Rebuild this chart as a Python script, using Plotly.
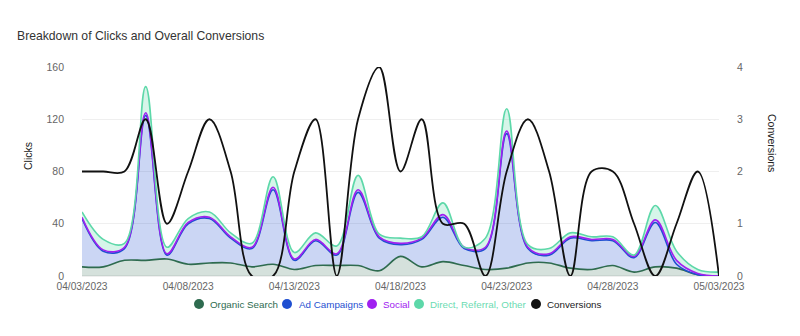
import plotly.graph_objects as go
import pandas as pd

dates = pd.date_range("2023-04-03", "2023-05-03", freq="D")

organic_search = [7, 7, 12, 12, 13, 9, 10, 10, 7, 9, 5, 8, 8, 8, 4, 15, 7, 11, 8, 5, 6, 10, 10, 6, 5, 8, 3, 7, 6, 1, 0]
ad_campaigns = [37, 12, 9, 111, 3, 31, 34, 19, 14, 57, 7, 19, 8, 56, 25, 9, 21, 34, 13, 16, 103, 11, 6, 23, 22, 19, 11, 34, 3, 0, 0]
social = [1, 1, 1, 2, 1, 1, 1, 1, 1, 2, 1, 1, 1, 2, 1, 1, 1, 2, 1, 1, 2, 1, 1, 1, 1, 1, 1, 2, 3, 1, 0]
direct_referral_other = [4, 8, 3, 20, 5, 3, 4, 3, 3, 8, 5, 5, 6, 11, 2, 4, 1, 9, 0, 7, 17, 2, 4, 3, 2, 2, 1, 11, 7, 3, 3]
conversions = [2, 2, 2, 3, 1, 2, 3, 2, 0, 0, 2, 3, 0, 3, 4, 2, 3, 1, 1, 0, 2, 3, 2, 0, 2, 2, 1, 0, 1, 2, 0]

series = [
    ("Organic Search", organic_search, "#2e6b4f", "rgba(46,107,79,0.20)"),
    ("Ad Campaigns", ad_campaigns, "#1f4fd1", "rgba(31,79,209,0.23)"),
    ("Social", social, "#a020f0", "rgba(31,79,209,0.23)"),
    ("Direct, Referral, Other", direct_referral_other, "#5dd8a9", "rgba(93,216,169,0.25)"),
]
legend_names = [s[0] for s in series] + ["Conversions"]
legend_colors = [s[2] for s in series] + ["#111111"]
legend_text_colors = ["#2e6b4f", "#1f4fd1", "#a020f0", "#6cdbb2", "#222222"]

# plot area in pixels (for the hand-made legend placement)
L, R, T, B = 82, 719, 67, 276
PW, PH = R - L, B - T
legend_circle_px = [199, 287, 372, 419, 536]
legend_text_px = [208, 297, 381, 428, 545]
legend_y_px = 304

fig = go.Figure()
for name, vals, col, fillc in series:
    fig.add_trace(go.Scatter(
        x=dates, y=vals, name=name, mode="lines", stackgroup="clicks",
        line=dict(color=col, width=1.6, shape="spline"), fillcolor=fillc,
        showlegend=False,
    ))

fig.add_trace(go.Scatter(
    x=dates, y=conversions, name="Conversions", mode="lines", yaxis="y2",
    line=dict(color="#111111", width=1.8, shape="spline"), showlegend=False,
))

ly = (B - legend_y_px) / PH
annotations = []
shapes = []
for name, col, tcol, cx, tx in zip(legend_names, legend_colors, legend_text_colors,
                                   legend_circle_px, legend_text_px):
    shapes.append(dict(type="circle", xref="paper", yref="paper", xsizemode="pixel",
                       ysizemode="pixel", xanchor=(cx - L) / PW, yanchor=ly,
                       x0=-5, x1=5, y0=-5, y1=5, fillcolor=col, line=dict(width=0)))
    annotations.append(dict(text=name, xref="paper", yref="paper", x=(tx - L) / PW, y=ly,
                            xanchor="left", yanchor="middle", showarrow=False,
                            font=dict(size=9.8, color=tcol)))

annotations.append(dict(text="Clicks", xref="paper", yref="paper", x=(28 - L) / PW,
                        y=(B - 156) / PH, textangle=-90, showarrow=False,
                        xanchor="center", yanchor="middle",
                        font=dict(size=10.5, color="#222222")))
annotations.append(dict(text="Conversions", xref="paper", yref="paper", x=(772 - L) / PW,
                        y=(B - 143) / PH, textangle=90, showarrow=False,
                        xanchor="center", yanchor="middle",
                        font=dict(size=10.5, color="#222222")))

fig.update_layout(
    width=800, height=336,
    margin=dict(l=L, r=800 - R, t=T, b=336 - B),
    paper_bgcolor="white", plot_bgcolor="white",
    showlegend=False,
    font=dict(family="Liberation Sans, Arial, sans-serif", size=10.5, color="#666666"),
    title=dict(text="Breakdown of Clicks and Overall Conversions", x=17 / 800, xanchor="left",
               y=1 - 36 / 336, yanchor="middle",
               font=dict(size=12.2, color="#333333")),
    xaxis=dict(
        type="date", range=[dates[0], dates[-1]], tick0=dates[0], dtick=5 * 86400000,
        tickformat="%m/%d/%Y", showgrid=False, showline=False, zeroline=False,
        ticks="", ticklabelstandoff=3, tickfont=dict(size=10.2, color="#666666"),
    ),
    yaxis=dict(
        range=[0, 160], dtick=40, showgrid=True, gridcolor="#efefef", zeroline=True,
        zerolinecolor="#efefef", ticks="", ticklabelstandoff=17,
        tickfont=dict(size=10.5, color="#666666"),
    ),
    yaxis2=dict(
        range=[0, 4], dtick=1, overlaying="y", side="right", showgrid=True,
        gridcolor="#efefef", zeroline=False, ticks="", ticklabelstandoff=17,
        tickfont=dict(size=10.5, color="#666666"),
    ),
    annotations=annotations,
    shapes=shapes,
)

fig.write_html("out.html")
